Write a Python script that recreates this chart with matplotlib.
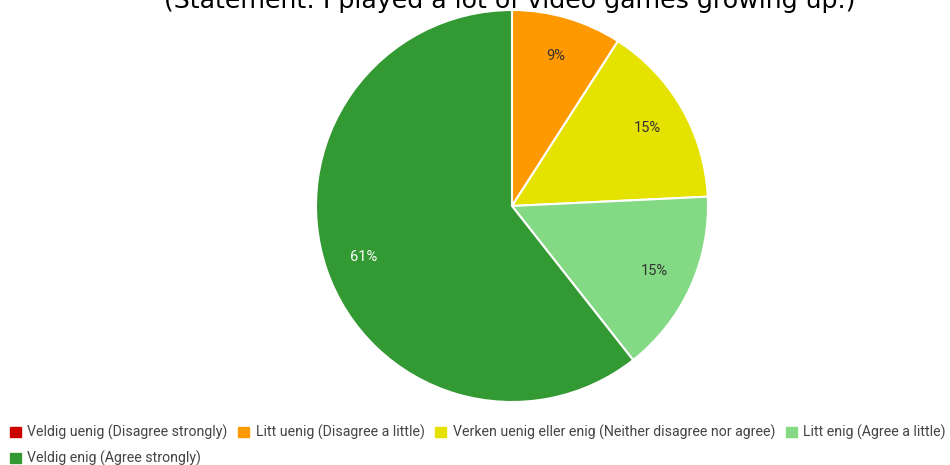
import matplotlib.pyplot as plt
from matplotlib.patches import Patch

labels = ['Veldig uenig (Disagree strongly)', 'Litt uenig (Disagree a little)',
          'Verken uenig eller enig (Neither disagree nor agree)',
          'Litt enig (Agree a little)', 'Veldig enig (Agree strongly)']
counts = [0, 3, 5, 5, 20]
colors = ['#cc0000', '#ff9900', '#e6e200', '#84d984', '#339933']
title = '(Statement: I played a lot of video games growing up.)'

fig = plt.figure(figsize=(9.5, 4.65), dpi=100)

# pie axes placed in pixels: center (512, 206), radius 196
ax = fig.add_axes([316 / 950, 63 / 465, 392 / 950, 392 / 465])


def pct(p):
    return '' if p == 0 else '%d%%' % round(p)


wedges, texts, autotexts = ax.pie(counts, colors=colors, startangle=90, counterclock=False,
                                  autopct=pct, pctdistance=0.8, radius=1,
                                  wedgeprops=dict(edgecolor='white', linewidth=1.5),
                                  textprops=dict(family='Roboto', fontsize=10.5, color='#333333'))
autotexts[-1].set_color('white')
ax.set_xlim(-1, 1)
ax.set_ylim(-1, 1)
ax.set_aspect('auto')

fig.text(510 / 950, 1 - 8 / 465, title, ha='center', va='baseline',
         fontsize=18.2, family='DejaVu Sans', color='#000000')

# legend: 4 in the first row, 1 in the second (column-major fill)
handles = [Patch(facecolor=c, edgecolor=c) for c in colors]
order = [0, 4, 1, 2, 3]
leg = fig.legend([handles[i] for i in order], [labels[i] for i in order], ncol=4,
                 loc='upper left', bbox_to_anchor=(10 / 950, 1 - 425 / 465),
                 frameon=False, prop=dict(family='Roboto', size=10.2),
                 handlelength=0.78, handleheight=0.78, handletextpad=0.45,
                 columnspacing=0.75, labelspacing=0.75, borderpad=0, borderaxespad=0)
for t in leg.get_texts():
    t.set_color('#444444')

fig.savefig('out.png', dpi=100)
